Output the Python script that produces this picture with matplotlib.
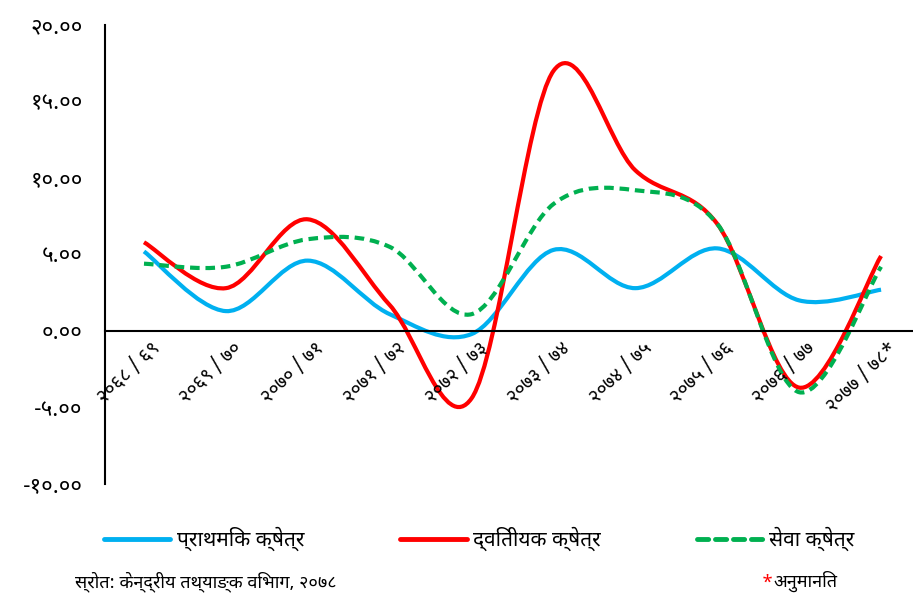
import matplotlib
matplotlib.use("Agg")
import matplotlib.pyplot as plt
from matplotlib.path import Path
from matplotlib.patches import PathPatch
from matplotlib.lines import Line2D

# years (Nepali fiscal years)
years = ["२०६८ / ६९", "२०६९ / ७०", "२०७० / ७१", "२०७१ / ७२", "२०७२ / ७३",
         "२०७३ / ७४", "२०७४ / ७५", "२०७५ / ७६", "२०७६ / ७७", "२०७७ / ७८*"]

primary = [5.2, 1.3, 4.6, 1.1, -0.2, 5.3, 2.8, 5.4, 2.0, 2.7]
secondary = [5.8, 2.8, 7.3, 1.7, -4.4, 17.0, 10.5, 7.0, -3.7, 4.9]
service = [4.4, 4.2, 6.0, 5.5, 1.1, 8.3, 9.2, 7.0, -4.0, 4.2]

yticks = [-10, -5, 0, 5, 10, 15, 20]
ytick_labels = ["-१०.००", "-५.००", "०.००", "५.००", "१०.००", "१५.००", "२०.००"]

series_names = ["प्राथमिक क्षेत्र", "द्वितीयक क्षेत्र", "सेवा क्षेत्र"]
colors = ["#00B0F0", "#FF0000", "#00B050"]

tick_font = ["Noto Sans Devanagari", "DejaVu Sans"]
text_font = ["Noto Sans Devanagari", "DejaVu Sans"]


def smooth_path(ys):
    # excel-like smoothed line: cubic bezier through every point
    xs = list(range(len(ys)))
    pts = list(zip(xs, ys))
    verts = [pts[0]]
    codes = [Path.MOVETO]
    n = len(pts)
    for i in range(n - 1):
        p0 = pts[i - 1] if i > 0 else pts[i]
        p1 = pts[i]
        p2 = pts[i + 1]
        p3 = pts[i + 2] if i + 2 < n else pts[i + 1]
        c1 = (p1[0] + (p2[0] - p0[0]) / 6, p1[1] + (p2[1] - p0[1]) / 6)
        c2 = (p2[0] - (p3[0] - p1[0]) / 6, p2[1] - (p3[1] - p1[1]) / 6)
        verts += [c1, c2, p2]
        codes += [Path.CURVE4] * 3
    return Path(verts, codes)


fig = plt.figure(figsize=(9.13, 5.99), dpi=100)
ax = fig.add_axes([105 / 913, 1 - 484 / 599, 808 / 913, 459 / 599])

styles = ["-", "-", (0, (2.3, 1.4))]
handles = []
for ys, c, ls, name in zip([primary, secondary, service], colors, styles, series_names):
    ax.add_patch(PathPatch(smooth_path(ys), fill=False, edgecolor=c, lw=3,
                           linestyle=ls, capstyle="butt"))
    handles.append(Line2D([], [], color=c, lw=3.5, linestyle=ls, label=name,
                          solid_capstyle="round", dash_capstyle="round"))

ax.set_xlim(-0.476, 9.39)
ax.set_ylim(-10, 20)

ax.spines["top"].set_visible(False)
ax.spines["right"].set_visible(False)
ax.spines["bottom"].set_position(("data", 0))
ax.spines["left"].set_linewidth(1.5)
ax.spines["bottom"].set_linewidth(1.5)

ax.set_yticks(yticks)
ax.set_yticklabels(ytick_labels, family=tick_font, fontsize=16)
ax.tick_params(axis="y", length=0, pad=16)

ax.set_xticks(range(len(years)))
ax.set_xticklabels([])
ax.tick_params(axis="x", length=0)
for i, lab in enumerate(years):
    ax.text(i + 0.08, -0.5, lab, rotation=44, ha="right", va="top",
            rotation_mode="anchor", family=tick_font, fontsize=14)

fig.legend(handles=handles, loc="center", bbox_to_anchor=(0.525, 0.1),
           ncol=3, frameon=False, handlelength=3.2, handletextpad=0.3,
           columnspacing=4.6, prop={"family": text_font, "size": 15})

fig.text(75 / 913, 0.012, "स्रोत: केन्द्रीय तथ्याङ्क विभाग, २०७८",
         family=text_font, fontsize=13, va="bottom")
fig.text(762 / 913, 0.012, "*", color="#FF0000", family=text_font,
         fontsize=13, va="bottom")
fig.text(773 / 913, 0.012, "अनुमानित", family=text_font, fontsize=13, va="bottom")

fig.savefig("out.png", dpi=100)
